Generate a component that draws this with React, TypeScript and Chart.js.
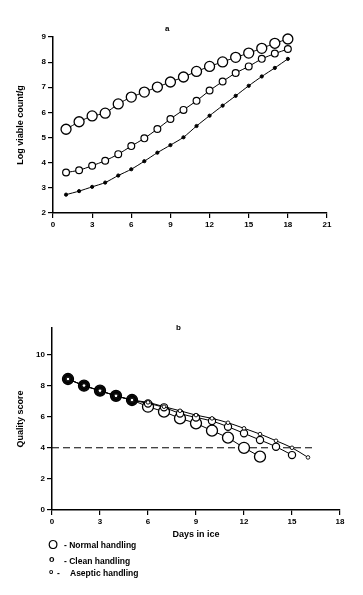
import React, { useEffect, useRef } from "react";
import { Chart, registerables } from "chart.js";
Chart.register(...registerables);
Chart.defaults.font.family = "'Liberation Sans', Arial, sans-serif";
Chart.defaults.color = "#000";

// ---- Panel a: Log viable count/g vs days ----
const daysA = [1, 2, 3, 4, 5, 6, 7, 8, 9, 10, 11, 12, 13, 14, 15, 16, 17, 18];
const normalA = [5.33, 5.63, 5.86, 5.97, 6.34, 6.61, 6.81, 7.01, 7.21, 7.41, 7.63, 7.83, 8.01, 8.19, 8.36, 8.55, 8.75, 8.92];
const cleanA = [3.61, 3.7, 3.88, 4.08, 4.34, 4.66, 4.97, 5.34, 5.74, 6.1, 6.46, 6.87, 7.23, 7.57, 7.83, 8.13, 8.34, 8.52];
const asepticA = [2.73, 2.87, 3.04, 3.21, 3.49, 3.74, 4.06, 4.4, 4.7, 5.01, 5.46, 5.87, 6.27, 6.66, 7.06, 7.43, 7.77, 8.13];

// ---- Panel b: Quality score vs days in ice ----
const daysNormalB = [1, 2, 3, 4, 5, 6, 7, 8, 9, 10, 11, 12, 13];
const normalB = [8.42, 7.99, 7.67, 7.34, 7.07, 6.64, 6.32, 5.89, 5.57, 5.1, 4.65, 4.0, 3.43];
const daysCleanB = [1, 2, 3, 4, 5, 6, 7, 8, 9, 10, 11, 12, 13, 14, 15];
const cleanB = [8.42, 8.0, 7.67, 7.34, 7.07, 6.85, 6.6, 6.2, 5.95, 5.72, 5.35, 4.93, 4.5, 4.07, 3.53];
const daysAsepticB = [1, 2, 3, 4, 5, 6, 7, 8, 9, 10, 11, 12, 13, 14, 15, 16];
const asepticB = [8.42, 8.0, 7.67, 7.34, 7.07, 6.92, 6.64, 6.38, 6.1, 5.89, 5.61, 5.25, 4.88, 4.45, 4.0, 3.38];
const limitX = [0, 16.5];
const limitY = [4, 4];

const legendLabels = ["Normal handling", "Clean handling", "Aseptic handling"];

const toXY = (xs: number[], ys: number[]) => xs.map((x, i) => ({ x, y: ys[i] }));

const tickFont = { size: 8, weight: "bold" as const };
const titleFont = { size: 9, weight: "bold" as const };

function axisBase() {
  return {
    grid: { display: true, drawOnChartArea: false, drawTicks: true, tickLength: 5, color: "#000", lineWidth: 1.2 },
    border: { display: true, color: "#000", width: 1.5 },
    ticks: { padding: 2, font: tickFont, color: "#000" },
  };
}

function ChartA() {
  const ref = useRef<HTMLCanvasElement | null>(null);
  useEffect(() => {
    const chart = new Chart(ref.current!, {
      type: "line",
      data: {
        datasets: [
          {
            label: "Aseptic handling",
            data: toXY(daysA, asepticA),
            borderColor: "#000",
            borderWidth: 1,
            pointRadius: 1.6,
            pointBackgroundColor: "#000",
            pointBorderColor: "#000",
            pointBorderWidth: 1,
            tension: 0.2,
            clip: false,
          },
          {
            label: "Clean handling",
            data: toXY(daysA, cleanA),
            borderColor: "#000",
            borderWidth: 1,
            pointRadius: 3.4,
            pointBackgroundColor: "#fff",
            pointBorderColor: "#000",
            pointBorderWidth: 1.2,
            tension: 0.2,
            clip: false,
          },
          {
            label: "Normal handling",
            data: toXY(daysA, normalA),
            borderColor: "#000",
            borderWidth: 1,
            pointRadius: 5,
            pointBackgroundColor: "#fff",
            pointBorderColor: "#000",
            pointBorderWidth: 1.3,
            tension: 0.2,
            clip: false,
          },
        ],
      },
      options: {
        animation: false,
        responsive: false,
        layout: { padding: { left: 0, right: 36, top: 37, bottom: 0 } },
        plugins: { legend: { display: false }, tooltip: { enabled: false } },
        scales: {
          x: {
            type: "linear",
            min: 0,
            max: 21,
            ...axisBase(),
            ticks: { ...axisBase().ticks, stepSize: 3 },
            afterFit: (s: any) => { s.height = 17; },
          },
          y: {
            type: "linear",
            min: 2,
            max: 9,
            ...axisBase(),
            ticks: { ...axisBase().ticks, stepSize: 1 },
            title: { display: true, text: "Log viable count/g", font: titleFont, color: "#000", padding: { top: 15, bottom: 0 } },
            afterFit: (s: any) => { s.width = 53; },
          },
        },
      },
    } as any);
    return () => chart.destroy();
  }, []);
  return <canvas ref={ref} width={363} height={230} style={{ position: "absolute", left: 0, top: 0 }} />;
}

function ChartB() {
  const ref = useRef<HTMLCanvasElement | null>(null);
  useEffect(() => {
    const darkFirst = (n: number) => Array.from({ length: n }, (_, i) => (i < 5 ? "#111" : "#fff"));
    const chart = new Chart(ref.current!, {
      type: "line",
      data: {
        datasets: [
          {
            label: "Aseptic handling",
            data: toXY(daysAsepticB, asepticB),
            borderColor: "#000",
            borderWidth: 1,
            pointRadius: 1.8,
            pointBackgroundColor: "#fff",
            pointBorderColor: "#000",
            pointBorderWidth: 0.9,
            tension: 0.4,
            cubicInterpolationMode: "monotone",
            clip: false,
          },
          {
            label: "Clean handling",
            data: toXY(daysCleanB, cleanB),
            borderColor: "#000",
            borderWidth: 1,
            pointRadius: 3.6,
            pointBackgroundColor: darkFirst(daysCleanB.length),
            pointBorderColor: "#000",
            pointBorderWidth: 1.2,
            tension: 0.4,
            cubicInterpolationMode: "monotone",
            clip: false,
          },
          {
            label: "Normal handling",
            data: toXY(daysNormalB, normalB),
            borderColor: "#000",
            borderWidth: 1,
            pointRadius: 5.5,
            pointBackgroundColor: darkFirst(daysNormalB.length),
            pointBorderColor: "#000",
            pointBorderWidth: 1.3,
            tension: 0,
            clip: false,
          },
          {
            label: "limit",
            data: toXY(limitX, limitY),
            borderColor: "#000",
            borderWidth: 1,
            borderDash: [7, 4],
            pointRadius: 0,
          },
        ],
      },
      options: {
        animation: false,
        responsive: false,
        layout: { padding: { left: 0, right: 23, top: 18, bottom: 0 } },
        plugins: { legend: { display: false }, tooltip: { enabled: false } },
        scales: {
          x: {
            type: "linear",
            min: 0,
            max: 18,
            ...axisBase(),
            ticks: { ...axisBase().ticks, stepSize: 3 },
            title: { display: true, text: "Days in ice", font: titleFont, color: "#000", padding: { top: 0, bottom: 0 } },
            afterFit: (s: any) => { s.height = 30; },
          },
          y: {
            type: "linear",
            min: 0,
            max: 11.7,
            ...axisBase(),
            ticks: { ...axisBase().ticks, stepSize: 2, includeBounds: false },
            title: { display: true, text: "Quality score", font: titleFont, color: "#000", padding: { top: 15, bottom: 0 } },
            afterFit: (s: any) => { s.width = 52; },
          },
        },
      },
    } as any);
    return () => chart.destroy();
  }, []);
  return <canvas ref={ref} width={363} height={230} style={{ position: "absolute", left: 0, top: 310 }} />;
}

export default function App() {
  const txt: React.CSSProperties = {
    position: "absolute",
    fontFamily: "'Liberation Sans', Arial, sans-serif",
    fontWeight: "bold",
    fontSize: 8.5,
    color: "#000",
    whiteSpace: "nowrap",
    lineHeight: 1,
  };
  return (
    <div style={{ position: "absolute", left: 0, top: 0, width: 363, height: 595, background: "#fff", overflow: "hidden" }}>
      <ChartA />
      <ChartB />
      <span style={{ ...txt, left: 165, top: 25, fontSize: 8 }}>a</span>
      <span style={{ ...txt, left: 176, top: 324, fontSize: 8 }}>b</span>
      <span style={{ ...txt, left: 48, top: 538, fontSize: 13, fontWeight: "normal" }}>O</span>
      <span style={{ ...txt, left: 64, top: 541 }}>- {legendLabels[0]}</span>
      <span style={{ ...txt, left: 49, top: 555, fontSize: 9 }}>o</span>
      <span style={{ ...txt, left: 64, top: 557 }}>- {legendLabels[1]}</span>
      <span style={{ ...txt, left: 49, top: 568, fontSize: 7 }}>o</span>
      <span style={{ ...txt, left: 57, top: 569 }}>-</span>
      <span style={{ ...txt, left: 70, top: 569 }}>{legendLabels[2]}</span>
    </div>
  );
}
